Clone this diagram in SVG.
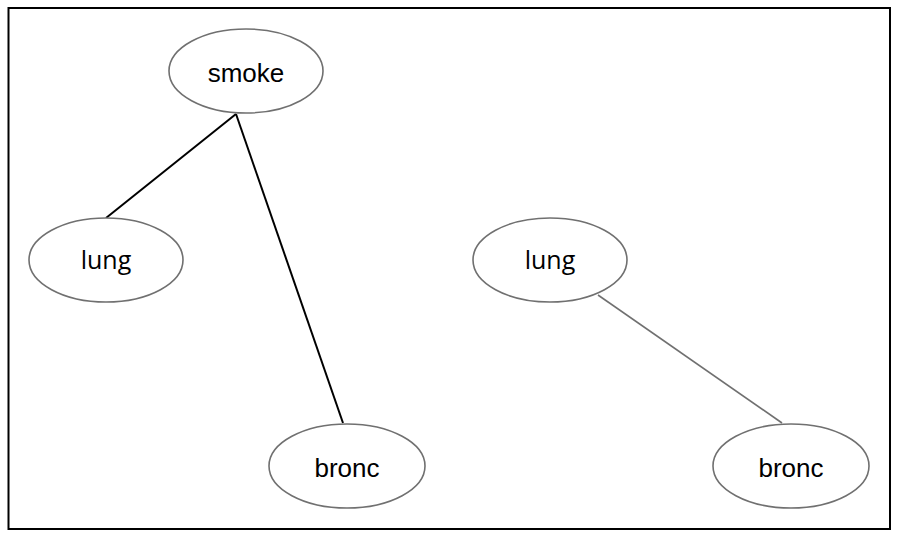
<svg xmlns="http://www.w3.org/2000/svg" width="898" height="538" viewBox="0 0 898 538">
<style>
.node ellipse{fill:#fff;stroke:#707070;stroke-width:1.6}
.h{font-family:"Liberation Sans",Arial,sans-serif;font-size:26px;fill:#000;text-anchor:middle}
.c{font-family:"Open Sans","Noto Sans",sans-serif;font-size:25px;fill:#000;text-anchor:middle}
.dark{stroke:#000;stroke-width:2;fill:none}
.light{stroke:#707070;stroke-width:1.6;fill:none}
</style>
<rect x="0" y="0" width="898" height="538" fill="#fff"/>
<rect x="8.5" y="8" width="881.5" height="521" fill="none" stroke="#000" stroke-width="2"/>
<g id="connectors">
<line class="dark" x1="236" y1="114" x2="106" y2="218"/>
<line class="dark" x1="236" y1="114" x2="343" y2="423"/>
<line class="light" x1="598" y1="295" x2="782" y2="423"/>
</g>
<g id="smoke" class="node"><ellipse cx="246" cy="71" rx="77" ry="42"/><text class="h" x="246" y="82">smoke</text></g>
<g id="lung1" class="node"><ellipse cx="106" cy="260" rx="77" ry="42"/><text class="c" x="106" y="269">lung</text></g>
<g id="bronc1" class="node"><ellipse cx="347" cy="466" rx="78" ry="42"/><text class="h" x="347" y="477">bronc</text></g>
<g id="lung2" class="node"><ellipse cx="550" cy="260" rx="77" ry="42"/><text class="c" x="550" y="269">lung</text></g>
<g id="bronc2" class="node"><ellipse cx="791" cy="466" rx="78" ry="42"/><text class="h" x="791" y="477">bronc</text></g>
</svg>
